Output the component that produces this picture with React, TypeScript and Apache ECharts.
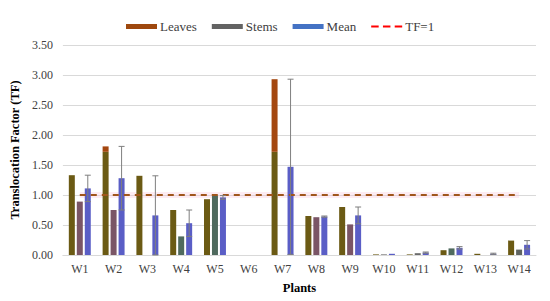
import React, { useEffect, useRef } from "react";
import * as echarts from "echarts";

const categories = ["W1", "W2", "W3", "W4", "W5", "W6", "W7", "W8", "W9", "W10", "W11", "W12", "W13", "W14"];
const leaves = [1.33, 1.81, 1.32, 0.75, 0.93, 0, 2.93, 0.65, 0.8, 0.01, 0.01, 0.08, 0.02, 0.24];
const stems = [0.89, 0.75, 0, 0.31, 0.99, 0, 0, 0.63, 0.51, 0.01, 0.03, 0.11, 0.0, 0.09];
const mean = [1.11, 1.28, 0.66, 0.53, 0.96, 0, 1.47, 0.64, 0.66, 0.02, 0.04, 0.12, 0.02, 0.17];
const meanError = [0.22, 0.53, 0.66, 0.22, 0.03, 0, 1.46, 0.01, 0.14, 0, 0.01, 0.02, 0.01, 0.07];
const tfLine = categories.map(() => 1);
const yTicks = [0, 0.5, 1, 1.5, 2, 2.5, 3, 3.5];

// styling (tint split of the leaves bars as seen in the picture)
const LEAF_SPLIT = 1.72;
const stemColors = ["#7a5566", "#7a5566", "#7a5566", "#4f6a5e", "#4f6a5e", "#6a6a6a", "#6a6a6a", "#7a5566", "#7a5566", "#6a6a6a", "#6a6a6a", "#4f6a5e", "#6a6a6a", "#5f6460"];

const FONT = "Liberation Serif";

export default function App() {
  const ref = useRef<HTMLDivElement>(null);
  useEffect(() => {
    if (!ref.current) return;
    document.body.style.margin = "0";
    const chart = echarts.init(ref.current, undefined, { renderer: "svg" });
    const leavesLow = leaves.map((v) => Math.min(v, LEAF_SPLIT));
    const leavesHigh = leaves.map((v) => Math.max(v - LEAF_SPLIT, 0));
    const BAR_W = 6;
    const OFFSET = 8;
    chart.setOption({
      animation: false,
      textStyle: { fontFamily: FONT },
      legend: {
        top: 15,
        left: 121,
        itemWidth: 31,
        itemHeight: 5,
        itemGap: 15,
        textStyle: { fontFamily: FONT, fontSize: 13, color: "#404040", padding: [0, 0, 0, -2] },
        data: [
          { name: "Leaves", icon: "rect", itemStyle: { color: "#9e480e" } },
          { name: "Stems", icon: "rect", itemStyle: { color: "#636363" } },
          { name: "Mean", icon: "rect", itemStyle: { color: "#4472c4" } },
          { name: "TF=1", icon: "path://M0,0 H7 V2 H0 Z M11,0 H18 V2 H11 Z M22,0 H29 V2 H22 Z", itemStyle: { color: "#ff0000" } },
        ],
      },
      grid: { left: 58, right: 14, top: 45, bottom: 46 },
      xAxis: {
        type: "category",
        data: categories,
        name: "Plants",
        nameLocation: "middle",
        nameGap: 26,
        nameTextStyle: { fontFamily: FONT, fontSize: 12.5, fontWeight: "bold", color: "#000" },
        axisLine: { lineStyle: { color: "#d9d9d9" } },
        axisTick: { show: false },
        axisLabel: { fontFamily: FONT, fontSize: 12, color: "#404040", margin: 8 },
      },
      yAxis: {
        type: "value",
        min: 0,
        max: 3.5,
        interval: 0.5,
        name: "Translocation Factor (TF)",
        nameLocation: "middle",
        nameGap: 40,
        nameTextStyle: { fontFamily: FONT, fontSize: 12.5, fontWeight: "bold", color: "#000" },
        axisLine: { show: false },
        axisTick: { show: false },
        splitLine: { lineStyle: { color: "#d9d9d9" } },
        axisLabel: {
          fontFamily: FONT,
          fontSize: 12,
          color: "#404040",
          margin: 10,
          formatter: (v: number) => (yTicks.includes(v) ? v.toFixed(2) : ""),
        },
      },
      series: [
        {
          name: "Leaves",
          type: "bar",
          stack: "leaves",
          data: leavesLow,
          barWidth: BAR_W,
          barGap: "33%",
          barCategoryGap: "35%",
          itemStyle: { color: "#6b5a14" },
        },
        {
          name: "Leaves",
          type: "bar",
          stack: "leaves",
          data: leavesHigh,
          barWidth: BAR_W,
          itemStyle: { color: "#a4470f" },
        },
        {
          name: "Stems",
          type: "bar",
          data: stems,
          barWidth: BAR_W,
          itemStyle: { color: (p: any) => stemColors[p.dataIndex] },
        },
        {
          name: "Mean",
          type: "bar",
          data: mean,
          barWidth: BAR_W,
          itemStyle: { color: "#5a5ec6" },
        },
        {
          name: "Error",
          type: "custom",
          data: mean.map((m, i) => [i, m - meanError[i], m + meanError[i]]),
          z: 5,
          renderItem: (params: any, api: any) => {
            const idx = api.value(0);
            if (meanError[idx] <= 0) return null;
            const lo = api.coord([idx, api.value(1)]);
            const hi = api.coord([idx, api.value(2)]);
            const x = lo[0] + OFFSET;
            const style = { stroke: "#7f7f7f", lineWidth: 1, fill: null };
            return {
              type: "group",
              children: [
                { type: "line", shape: { x1: x, y1: lo[1], x2: x, y2: hi[1] }, style },
                { type: "line", shape: { x1: x - 3, y1: hi[1], x2: x + 3, y2: hi[1] }, style },
                { type: "line", shape: { x1: x - 3, y1: lo[1], x2: x + 3, y2: lo[1] }, style },
              ],
            };
          },
        },
        {
          name: "TF=1",
          type: "line",
          data: tfLine,
          symbol: "none",
          z: 4,
          lineStyle: { color: "#a0561c", width: 2, type: [6, 5] },
          itemStyle: { color: "#ff0000" },
          markArea: {
            silent: true,
            itemStyle: { color: "rgba(250, 200, 220, 0.35)" },
            data: [[{ xAxis: "W1", yAxis: 0.95 }, { xAxis: "W14", yAxis: 1.05 }]],
          },
        },
      ],
    });
    return () => chart.dispose();
  }, []);
  return <div ref={ref} style={{ width: 550, height: 301 }} />;
}
